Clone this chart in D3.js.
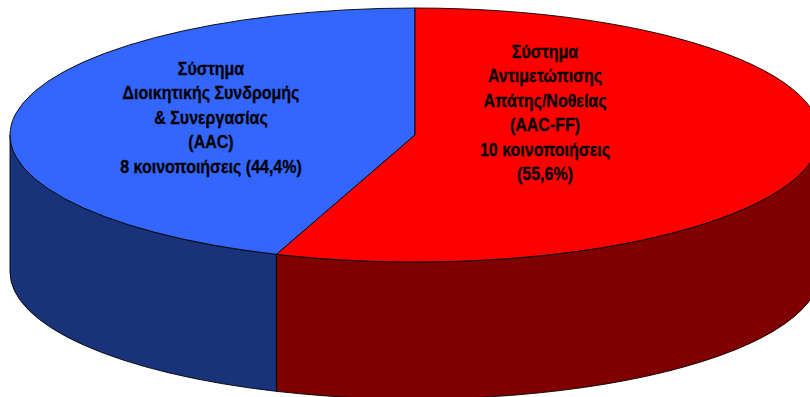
<!DOCTYPE html>
<html>
<head>
<meta charset="utf-8">
<script src="https://cdn.jsdelivr.net/npm/d3@7"></script>
<style>
  html, body { margin: 0; padding: 0; background: #fff; }
  svg { display: block; }
  text { font-family: "Liberation Sans", Arial, sans-serif; font-weight: bold; fill: #000; }
</style>
</head>
<body>
<svg id="chart" width="810" height="397"></svg>
<script>
// ---- data ----
const categories = ["AAC", "AAC-FF"];
const values = [8, 10];
const labelLines = [
  ["Σύστημα", "Διοικητικής Συνδρομής", "& Συνεργασίας", "(AAC)", "8 κοινοποιήσεις (44,4%)"],
  ["Σύστημα", "Αντιμετώπισης", "Απάτης/Νοθείας", "(AAC-FF)", "10 κοινοποιήσεις", "(55,6%)"]
];
const topColors = ["#3366FF", "#FF0000"];
const sideColors = ["#18337A", "#800000"];

// ---- layout ----
const W = 810, H = 397;
const cx = 415, cy = 135, rx = 405, ry = 127, depth = 137;
const labelPos = [{x: 211, y: 75}, {x: 545, y: 58}];
const lineH = 24.4;
const fontSize = 16;
const sy = 1.12;

const svg = d3.select("#chart");
const total = d3.sum(values);
const startA = -2 * Math.PI * values[0] / total;
const pie = d3.pie().sort(null).startAngle(startA).endAngle(startA + 2 * Math.PI);
const arcs = pie(values);

const P = (a, dy = 0) => [cx + rx * Math.sin(a), cy - ry * Math.cos(a) + dy];
const fmt = p => p[0].toFixed(2) + "," + p[1].toFixed(2);

// side walls (front visible part: angles between PI/2 and 3PI/2)
const sideG = svg.append("g");
arcs.forEach((d, i) => {
  let a0 = d.startAngle, a1 = d.endAngle;
  if (a0 < 0) { a0 += 2 * Math.PI; a1 += 2 * Math.PI; }
  const s = Math.max(a0, Math.PI / 2), e = Math.min(a1, 3 * Math.PI / 2);
  if (e <= s) return;
  const large = (e - s) > Math.PI ? 1 : 0;
  const path = "M" + fmt(P(s)) +
    " A" + rx + "," + ry + " 0 " + large + " 1 " + fmt(P(e)) +
    " L" + fmt(P(e, depth)) +
    " A" + rx + "," + ry + " 0 " + large + " 0 " + fmt(P(s, depth)) + " Z";
  sideG.append("path")
    .attr("d", path)
    .attr("fill", sideColors[i])
    .attr("stroke", "#000")
    .attr("stroke-width", 0.9)
    .attr("stroke-linejoin", "round");
});

// top faces
const topG = svg.append("g");
arcs.forEach((d, i) => {
  const a0 = d.startAngle, a1 = d.endAngle;
  const large = (a1 - a0) > Math.PI ? 1 : 0;
  const path = "M" + cx + "," + cy + " L" + fmt(P(a0)) +
    " A" + rx + "," + ry + " 0 " + large + " 1 " + fmt(P(a1)) + " Z";
  topG.append("path")
    .attr("d", path)
    .attr("fill", topColors[i])
    .attr("stroke", "#000")
    .attr("stroke-width", 0.9)
    .attr("stroke-linejoin", "round");
});

// labels
const labG = svg.append("g");
labelLines.forEach((lines, i) => {
  const t = labG.append("text")
    .attr("text-anchor", "middle")
    .attr("font-size", fontSize)
    .attr("stroke", "#000")
    .attr("stroke-width", 0.25)
    .attr("transform", `translate(${labelPos[i].x},${labelPos[i].y}) scale(1,${sy})`);
  lines.forEach((ln, j) => {
    t.append("tspan").attr("x", 0).attr("y", j * lineH / sy).text(ln);
  });
});
</script>
</body>
</html>
